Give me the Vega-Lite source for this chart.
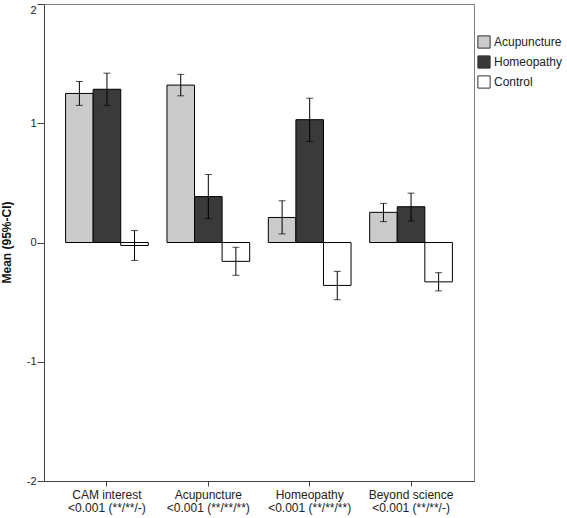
{
  "$schema": "https://vega.github.io/schema/vega-lite/v6.json",
  "width": 430,
  "height": 477,
  "autosize": {"type": "none"},
  "padding": {"left": 44, "top": 4, "right": 93, "bottom": 37},
  "background": "white",
  "config": {
    "view": {"stroke": "#808080", "strokeWidth": 1},
    "font": "Liberation Sans"
  },
  "data": {
    "values": [
      {"cat": "CAM interest|<0.001 (**/**/-)", "group": "Acupuncture", "mean": 1.25, "lo": 1.15, "hi": 1.35},
      {"cat": "CAM interest|<0.001 (**/**/-)", "group": "Homeopathy", "mean": 1.285, "lo": 1.15, "hi": 1.42},
      {"cat": "CAM interest|<0.001 (**/**/-)", "group": "Control", "mean": -0.025, "lo": -0.15, "hi": 0.1},
      {"cat": "Acupuncture|<0.001 (**/**/**)", "group": "Acupuncture", "mean": 1.32, "lo": 1.23, "hi": 1.41},
      {"cat": "Acupuncture|<0.001 (**/**/**)", "group": "Homeopathy", "mean": 0.385, "lo": 0.2, "hi": 0.57},
      {"cat": "Acupuncture|<0.001 (**/**/**)", "group": "Control", "mean": -0.158, "lo": -0.275, "hi": -0.04},
      {"cat": "Homeopathy|<0.001 (**/**/**)", "group": "Acupuncture", "mean": 0.21, "lo": 0.072, "hi": 0.35},
      {"cat": "Homeopathy|<0.001 (**/**/**)", "group": "Homeopathy", "mean": 1.03, "lo": 0.847, "hi": 1.21},
      {"cat": "Homeopathy|<0.001 (**/**/**)", "group": "Control", "mean": -0.36, "lo": -0.48, "hi": -0.242},
      {"cat": "Beyond science|<0.001 (**/**/-)", "group": "Acupuncture", "mean": 0.253, "lo": 0.175, "hi": 0.328},
      {"cat": "Beyond science|<0.001 (**/**/-)", "group": "Homeopathy", "mean": 0.3, "lo": 0.18, "hi": 0.414},
      {"cat": "Beyond science|<0.001 (**/**/-)", "group": "Control", "mean": -0.33, "lo": -0.406, "hi": -0.253}
    ]
  },
  "encoding": {
    "x": {
      "field": "cat",
      "type": "nominal",
      "sort": null,
      "scale": {"paddingInner": 0.184, "paddingOuter": 0.213},
      "axis": {
        "title": null,
        "labelAngle": 0,
        "labelExpr": "split(datum.label, '|')",
        "labelFontSize": 12,
        "labelColor": "#222",
        "labelLineHeight": 13,
        "labelPadding": 3,
        "tickSize": 5,
        "tickColor": "#444",
        "domainColor": "#444",
        "labelLimit": 200,
        "labelOverlap": false
      }
    },
    "xOffset": {
      "field": "group",
      "type": "nominal",
      "sort": ["Acupuncture", "Homeopathy", "Control"],
      "scale": {"paddingInner": 0, "paddingOuter": 0}
    }
  },
  "layer": [
    {
      "mark": {"type": "bar", "stroke": "black", "strokeWidth": 1},
      "encoding": {
        "y": {
          "field": "mean",
          "type": "quantitative",
          "scale": {"domain": [-2, 2], "nice": false, "zero": false},
          "axis": {
            "title": "Mean (95%-CI)",
            "titleFontWeight": "bold",
            "titleFontSize": 12,
            "titleColor": "#111",
            "titleX": -31,
            "titleY": 238,
            "titleAngle": -90,
            "titleBaseline": "bottom",
            "titleAlign": "center",
            "values": [-2, -1, 0, 1, 2],
            "labelExpr": "toString(datum.value)",
            "labelFontSize": 11,
            "labelColor": "#222",
            "labelPadding": 1,
            "labelBaseline": {"condition": {"test": "datum.value == 2", "value": "top"}, "value": "middle"},
            "tickSize": 7,
            "tickColor": "#444",
            "domainColor": "#444",
            "grid": false
          }
        },
        "y2": {"datum": 0},
        "fill": {
          "field": "group",
          "type": "nominal",
          "sort": ["Acupuncture", "Homeopathy", "Control"],
          "scale": {"domain": ["Acupuncture", "Homeopathy", "Control"], "range": ["#cbcbcb", "#3a3a3a", "#ffffff"]},
          "legend": {
            "title": null,
            "orient": "none",
            "legendX": 433,
            "legendY": 31,
            "symbolType": "square",
            "symbolSize": 150,
            "symbolStrokeColor": "#333",
            "symbolStrokeWidth": 1,
            "labelFontSize": 12,
            "labelColor": "#222",
            "rowPadding": 2,
            "symbolOffset": 0,
            "labelOffset": 3,
            "padding": 0
          }
        }
      }
    },
    {
      "mark": {"type": "rule", "color": "black", "strokeWidth": 1},
      "encoding": {
        "y": {"field": "lo", "type": "quantitative"},
        "y2": {"field": "hi"}
      }
    },
    {
      "mark": {"type": "tick", "color": "black", "thickness": 1, "size": 7, "orient": "horizontal"},
      "encoding": {
        "y": {"field": "lo", "type": "quantitative"}
      }
    },
    {
      "mark": {"type": "tick", "color": "black", "thickness": 1, "size": 7, "orient": "horizontal"},
      "encoding": {
        "y": {"field": "hi", "type": "quantitative"}
      }
    }
  ]
}
